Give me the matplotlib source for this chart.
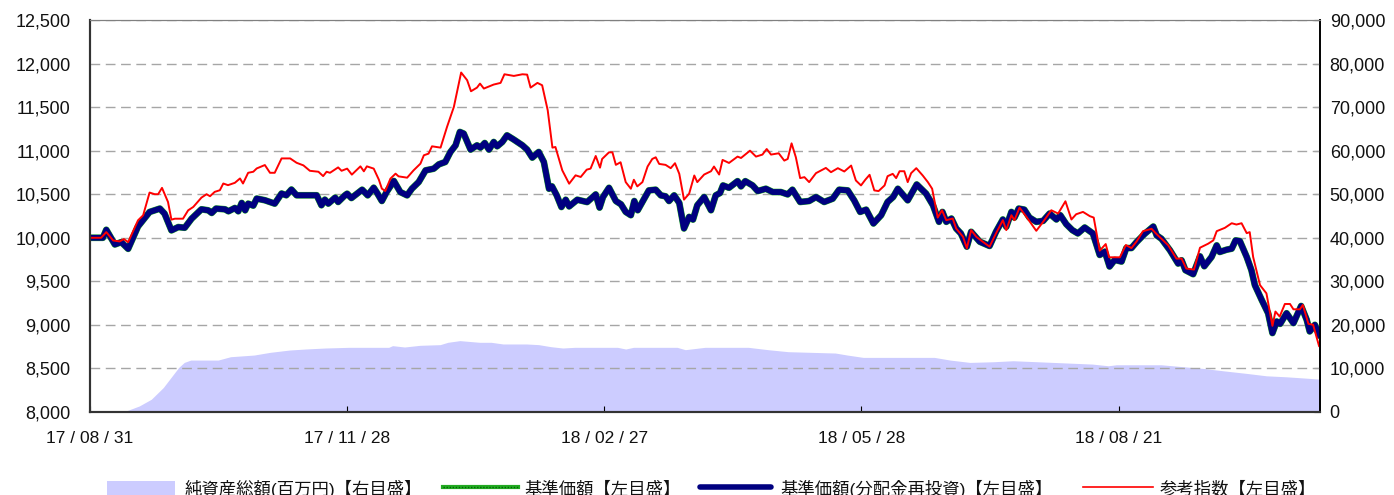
"""Fund NAV vs reference index with net assets area (twin axes)."""

import matplotlib
matplotlib.use("Agg")
import matplotlib.pyplot as plt
from matplotlib.lines import Line2D
from matplotlib.patches import Rectangle
from matplotlib.ticker import FuncFormatter

plt.rcParams['font.family'] = ['Liberation Sans', 'Noto Sans CJK JP', 'DejaVu Sans']

# x = business-day index from 17/08/31
tick_days = [0, 60, 120, 180, 240]
tick_labels = ["17 / 08 / 31", "17 / 11 / 28", "18 / 02 / 27", "18 / 05 / 28", "18 / 08 / 21"]
last_day = 287

# 基準価額(分配金再投資) - no distributions, so 基準価額 follows the same values
nav_days = [0, 3, 3.8, 5.8, 7.3, 8.9, 11.2, 13.9, 16.3, 17.4, 19, 20.6, 22.1, 23.7, 26, 27.6, 28.4,
            29.4, 31.5, 32.3, 33.8, 34.6, 35.4, 36.2, 36.9, 38.1, 38.9, 40.8, 43.1, 44.7, 45.8, 47,
            48.2, 50.2, 52.9, 54, 54.8, 55.6, 57.2, 57.9, 59.5, 60, 61, 63.5, 64.8, 66.2, 67, 68.1,
            69.2, 70.9, 72.4, 74, 75.1, 76.7, 78.3, 80.2, 81.4, 82.9, 84.1, 85.3, 86.3, 87.2, 88.8,
            90.3, 91.1, 92.1, 93.1, 94.2, 95, 96.2, 97.3, 98.9, 100.9, 102, 103.2, 104.7, 105.9,
            107.1, 107.8, 108.9, 110, 111, 111.8, 113.7, 116, 118, 118.9, 119.7, 121.1, 122.7,
            123.9, 125, 126.2, 127, 127.8, 129.3, 130.4, 132, 133.2, 134.3, 135.1, 136.3, 137.5,
            138.6, 139.8, 140.7, 141.7, 143.3, 144.9, 146, 147, 147.7, 149.1, 151.1, 151.9, 152.9,
            154.6, 155.8, 157.7, 159.3, 161.2, 162.8, 163.9, 165.7, 167.8, 169.4, 171.3, 173.3,
            174.8, 176.8, 178.3, 179.7, 181.1, 182.8, 184.6, 186.1, 187.4, 188.5, 190.8, 192.9,
            195.1, 196.7, 198.1, 198.9, 199.8, 201, 202.1, 203.2, 204.6, 205.6, 207.6, 209.9,
            211.4, 213, 213.8, 215, 215.7, 216.7, 218, 219.2, 220.8, 222.4, 223.9, 225.5, 226.4,
            227.8, 229.2, 230.5, 232.1, 234, 235.6, 236.8, 237.9, 239.1, 240.7, 241.8, 243, 244.2,
            246.1, 248.1, 248.9, 250, 252, 253.9, 254.7, 255.6, 257.4, 259, 260, 261.7, 262.9,
            263.6, 265.2, 266.4, 267.3, 268.3, 269.9, 271, 271.8, 273.4, 274.9, 275.9, 276.9,
            277.7, 279.2, 280.8, 282.6, 283.9, 284.6, 285.8, 286.9, 287]
nav_reinv = [10000, 10000, 10092, 9923, 9950, 9873, 10130, 10296, 10335, 10277, 10085, 10123, 10115,
             10219, 10327, 10315, 10285, 10335, 10327, 10304, 10342, 10304, 10400, 10315, 10392,
             10369, 10450, 10431, 10392, 10508, 10488, 10554, 10488, 10488, 10488, 10373, 10438,
             10392, 10461, 10411, 10488, 10506, 10456, 10552, 10487, 10575, 10514, 10422, 10525,
             10652, 10525, 10487, 10563, 10640, 10774, 10793, 10843, 10870, 10985, 11061, 11215,
             11196, 11012, 11061, 11035, 11088, 11012, 11100, 11050, 11100, 11176, 11127, 11061,
             11012, 10920, 10985, 10870, 10563, 10590, 10487, 10353, 10437, 10360, 10437, 10410,
             10498, 10346, 10468, 10574, 10422, 10384, 10297, 10259, 10422, 10316, 10449, 10544,
             10552, 10487, 10476, 10422, 10487, 10400, 10107, 10240, 10209, 10373, 10468, 10316,
             10487, 10514, 10601, 10574, 10650, 10590, 10650, 10601, 10536, 10563, 10525, 10525,
             10498, 10552, 10411, 10422, 10468, 10411, 10449, 10552, 10544, 10430, 10297, 10323,
             10164, 10259, 10411, 10468, 10563, 10430, 10612, 10506, 10373, 10183, 10297, 10183,
             10221, 10107, 10050, 9898, 10069, 9955, 9906, 10069, 10210, 10126, 10297, 10232,
             10335, 10323, 10232, 10183, 10194, 10278, 10210, 10259, 10156, 10088, 10050, 10118,
             10050, 9803, 9841, 9670, 9746, 9727, 9882, 9882, 9951, 10046, 10129, 10027, 9989,
             9856, 9704, 9742, 9628, 9582, 9787, 9673, 9780, 9913, 9837, 9863, 9875, 9970, 9962,
             9780, 9628, 9457, 9286, 9134, 8906, 9039, 9012, 9134, 9020, 9217, 9058, 8925, 9001,
             8875, 8913]
nav_base = list(nav_reinv)

# 参考指数
idx_days = [0, 2.6, 3.8, 5.4, 6.9, 7.9, 8.9, 11.2, 12.4, 13.9, 15.1, 15.9, 16.8, 18.2, 19, 19.8,
            21.7, 22.9, 24.1, 26, 27.2, 28, 29.1, 30.3, 31.1, 32.2, 33.8, 35, 35.7, 36.9, 38.1,
            38.9, 40.8, 42, 43.1, 44.7, 46.7, 48.2, 49.8, 51.3, 53.3, 54.4, 55.2, 56, 57.9, 58.7,
            60, 61.1, 63.1, 63.9, 64.6, 66.2, 67.4, 68.1, 68.9, 70.1, 71.3, 72, 74, 75.5, 77.1,
            77.9, 79, 79.8, 81.8, 83.3, 84.9, 86.6, 88, 88.9, 90.3, 91, 91.9, 94.2, 95.8, 96.7,
            98.9, 100.9, 102, 102.8, 104.4, 105.5, 106.8, 107.9, 108.6, 110.2, 111.8, 113.3,
            114.5, 115.9, 116.8, 118, 119, 119.5, 121.1, 121.9, 122.7, 123.8, 125, 126.2, 126.9,
            127.7, 128.9, 130.1, 131.2, 132, 132.8, 134.3, 135.5, 136.5, 137.5, 138.6, 139.8, 141,
            141.7, 143.3, 144.9, 145.6, 146.8, 147.6, 149.1, 151.1, 151.9, 154, 155.4, 156.9,
            157.9, 158.9, 160.7, 162, 162.8, 163.7, 164.7, 165.7, 166.7, 167.8, 169.4, 171.7,
            172.9, 174.5, 176, 177.6, 178.7, 179.9, 180.9, 181.9, 183, 184, 185.4, 186.1, 187.3,
            188.1, 188.9, 190, 190.8, 191.6, 192.8, 194.3, 195.5, 196.5, 197.8, 198.8, 199.8,
            201.3, 202.1, 203.7, 204.6, 205.6, 206.8, 208.3, 209.9, 211.4, 213, 213.8, 215, 215.7,
            216.9, 218.5, 220.8, 222.4, 224.3, 225.9, 227.6, 229, 230.1, 231.7, 233.3, 234.2,
            235.6, 237, 237.8, 240.3, 241.7, 243, 244.2, 245.7, 247.7, 248.8, 251.6, 253.5, 254.7,
            255.8, 257.6, 259, 260.9, 262.1, 262.9, 264.8, 266.4, 267.5, 268.7, 269.9, 270.6,
            271.4, 273, 274.5, 275.9, 276.6, 277.6, 278.8, 280, 280.8, 282.3, 283, 284.3, 285.4,
            286.8, 287]
idx_vals = [10000, 10000, 10065, 9969, 9958, 9985, 9950, 10200, 10258, 10519, 10500, 10500, 10573,
            10411, 10208, 10219, 10219, 10315, 10354, 10461, 10500, 10477, 10527, 10546, 10623,
            10604, 10631, 10681, 10623, 10746, 10758, 10796, 10835, 10746, 10746, 10911, 10911,
            10861, 10831, 10769, 10758, 10708, 10758, 10746, 10808, 10769, 10794, 10725, 10820,
            10763, 10820, 10794, 10667, 10564, 10537, 10679, 10736, 10705, 10690, 10774, 10851,
            10947, 10966, 11050, 11035, 11272, 11502, 11897, 11809, 11682, 11724, 11770, 11713,
            11759, 11778, 11877, 11858, 11877, 11873, 11724, 11778, 11751, 11464, 11035, 11042,
            10774, 10621, 10717, 10698, 10782, 10794, 10939, 10805, 10905, 10981, 10981, 10837,
            10867, 10639, 10563, 10666, 10590, 10639, 10818, 10905, 10924, 10848, 10837, 10799,
            10856, 10734, 10438, 10506, 10715, 10639, 10726, 10764, 10818, 10726, 10894, 10859,
            10932, 10916, 11000, 10932, 10955, 11019, 10955, 10970, 10886, 10905, 11084, 10924,
            10685, 10696, 10639, 10742, 10802, 10753, 10799, 10761, 10829, 10658, 10601, 10666,
            10723, 10544, 10536, 10601, 10707, 10734, 10685, 10764, 10764, 10639, 10742, 10799,
            10715, 10639, 10563, 10232, 10316, 10202, 10221, 10107, 10012, 9879, 10088, 10012,
            9955, 9898, 10050, 10202, 10088, 10259, 10202, 10346, 10240, 10080, 10183, 10316,
            10278, 10419, 10210, 10270, 10297, 10248, 10232, 9852, 9928, 9776, 9776, 9917, 9882,
            9958, 10076, 10103, 10046, 9913, 9761, 9761, 9647, 9635, 9886, 9932, 9970, 10076,
            10114, 10167, 10152, 10167, 10053, 10065, 9780, 9457, 9362, 8989, 9153, 9096, 9240,
            9240, 9179, 9179, 9229, 9012, 9001, 8754, 8754]

# 純資産総額(百万円)
aum_days = [0, 7.8, 8.8, 11.5, 14.3, 17.1, 18.9, 20.7, 22, 23.5, 29.9, 32.8, 38.3, 42, 46.6, 50.3,
            54.9, 60.4, 69.7, 70.6, 73.4, 77, 81.7, 83.5, 86.3, 90.9, 93.6, 96.4, 101.9, 104.7,
            107.5, 110.3, 113.1, 123.1, 125, 126.8, 137, 138.9, 143.5, 153.6, 158.2, 162.9, 173.9,
            176.7, 180.4, 197, 200.7, 205.3, 210.8, 215.4, 224.7, 233.9, 237.6, 239.5, 249.9,
            255.2, 259.8, 264.4, 270, 274.5, 279.2, 283.8, 287]
aum_vals = [0, 0, 385, 1385, 2923, 5615, 7923, 10231, 11385, 11923, 11923, 12692, 13077, 13692,
            14231, 14462, 14692, 14846, 14846, 15231, 14923, 15308, 15462, 16000, 16385, 16000,
            16000, 15615, 15615, 15462, 15000, 14692, 14846, 14846, 14462, 14846, 14846, 14308,
            14846, 14846, 14308, 13846, 13538, 13077, 12538, 12538, 11923, 11385, 11538, 11769,
            11385, 11000, 10615, 10846, 10846, 10385, 10000, 9462, 8846, 8308, 8077, 7769, 7538]

legend_labels = ["純資産総額(百万円)【右目盛】", "基準価額【左目盛】",
                 "基準価額(分配金再投資)【左目盛】", "参考指数【左目盛】"]

AREA = "#ccccff"
NAVY = "#000080"
GREEN = "#22aa22"
RED = "#ff0000"

fig = plt.figure(figsize=(13.94, 4.95), dpi=100)
ax = fig.add_axes([90 / 1394, 1 - 412 / 495, 1230 / 1394, 392 / 495])
ax2 = ax.twinx()
ax.set_zorder(ax2.get_zorder() + 1)
ax.patch.set_visible(False)

# net assets area on right axis
ax2.fill_between(aum_days, aum_vals, 0, color=AREA, linewidth=0)
ax2.set_ylim(0, 90000)
ax2.set_yticks(range(0, 90001, 10000))
ax2.yaxis.set_major_formatter(FuncFormatter(lambda v, p: f"{v:,.0f}"))

# lines on left axis
ax.plot(nav_days, nav_base, color=GREEN, lw=4.8, solid_capstyle="round")
ax.plot(nav_days, nav_reinv, color=NAVY, lw=4.2, solid_joinstyle="round")
ax.plot(idx_days, idx_vals, color=RED, lw=1.4)

ax.set_xlim(0, last_day)
ax.set_ylim(8000, 12500)
ax.set_yticks(range(8000, 12501, 500))
ax.yaxis.set_major_formatter(FuncFormatter(lambda v, p: f"{v:,.0f}"))
ax.set_xticks(tick_days)
ax.set_xticklabels(tick_labels)

ax.grid(axis="y", color="#a6a6a6", linestyle=(0, (7, 4)), linewidth=1.0)
ax.set_axisbelow(True)

for a in (ax, ax2):
    a.spines["top"].set_color("#808080")
    a.spines["left"].set_color("#333333")
    a.spines["right"].set_color("#000000")
    a.spines["bottom"].set_color("#333333")
    a.spines["left"].set_linewidth(1.5)
    a.spines["bottom"].set_linewidth(1.5)
    a.spines["right"].set_linewidth(1.2)

ax.tick_params(axis="y", direction="in", length=0, pad=14, labelsize=13, labelcolor="#111111")
ax.tick_params(axis="x", direction="in", length=4, pad=14, labelsize=12.5, labelcolor="#111111")
ax2.tick_params(axis="y", direction="in", length=4, pad=7, labelsize=13, labelcolor="#111111")

# legend at the bottom (partly cut by the figure edge as in the source)
ly = 1 - 487 / 495
fig.add_artist(Rectangle((107 / 1394, 0), 68 / 1394, 14 / 495,
                         transform=fig.transFigure, color=AREA, lw=0))
fig.add_artist(Line2D([443 / 1394, 518 / 1394], [ly, ly], transform=fig.transFigure,
                      color=GREEN, lw=3))
fig.add_artist(Line2D([443 / 1394, 518 / 1394], [ly, ly], transform=fig.transFigure,
                      color="#006600", lw=1, linestyle=(0, (1, 1.2))))
fig.add_artist(Line2D([700 / 1394, 771 / 1394], [ly, ly], transform=fig.transFigure,
                      color=NAVY, lw=4, solid_capstyle="round"))
fig.add_artist(Line2D([1083 / 1394, 1153 / 1394], [ly, ly], transform=fig.transFigure,
                      color=RED, lw=1.2))
ty = 1 - 489 / 495
for x0, label in zip([185, 524, 780, 1160], legend_labels):
    fig.text(x0 / 1394, ty, label, fontsize=12.5, va="center", ha="left", color="#111111")

fig.savefig("out.png", dpi=100)
